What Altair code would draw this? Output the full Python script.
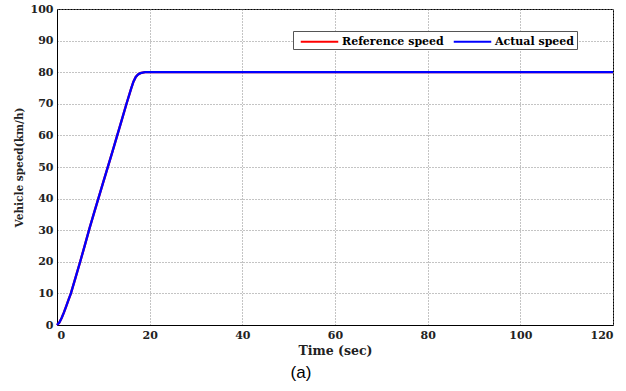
import altair as alt
import pandas as pd

t = [0, 0.5, 1, 1.5, 2, 2.5, 3, 4, 5, 6, 7, 8, 10, 12, 14, 15, 16, 16.5, 17, 17.5, 18, 18.5, 19, 20, 22, 120]
v = [0, 0.8, 2.2, 4, 6, 8, 10, 15, 20, 25.2, 30.5, 35.5, 45.3, 55, 65, 70, 74.8, 77, 78.5, 79.3, 79.7, 79.9, 80, 80, 80, 80]
series = ["Reference speed", "Actual speed"]
colors = ["#ff0000", "#0000ff"]

rows = []
for s in series:
    for ti, vi in zip(t, v):
        rows.append({"t": ti, "v": vi, "s": s})
df = pd.DataFrame(rows)

serif = "DejaVu Serif"

chart = alt.Chart(df).mark_line(strokeWidth=2.3).encode(
    x=alt.X("t:Q", scale=alt.Scale(domain=[0, 120], nice=False),
            axis=alt.Axis(values=[0, 20, 40, 60, 80, 100, 120], title="Time (sec)", format="d",
                          titleFontSize=12.5, titlePadding=4)),
    y=alt.Y("v:Q", scale=alt.Scale(domain=[0, 100], nice=False),
            axis=alt.Axis(values=list(range(0, 101, 10)), title="Vehicle speed(km/h)", format="d",
                          titleFontSize=10.5, titlePadding=6)),
    color=alt.Color("s:N", scale=alt.Scale(domain=series, range=colors),
                    legend=alt.Legend(title=None, orient="none", legendX=236, legendY=22,
                                      direction="horizontal", symbolType="M-2.5,0H2.5",
                                      symbolSize=225, symbolStrokeWidth=2, symbolOffset=16,
                                      labelFont=serif, labelFontWeight="bold", labelFontSize=11,
                                      labelColor="black", columnPadding=4, labelOffset=14,
                                      fillColor="white", strokeColor="#555", padding=2)),
    order=alt.Order("s:N", sort="descending"),
).properties(
    width=556, height=316,
    autosize=alt.AutoSizeParams(type="none"),
    padding={"left": 57, "top": 9, "right": 13, "bottom": 66},
    title=alt.TitleParams("(a)", orient="bottom", font="Liberation Sans", fontSize=17,
                          fontWeight="normal", color="black", offset=8, dx=-34),
).configure_view(stroke="black", strokeWidth=1).configure_axis(
    grid=True, gridColor="#888", gridDash=[1, 2], gridWidth=1,
    domainColor="black", ticks=False,
    labelFont=serif, labelFontWeight="bold", labelFontSize=11, labelColor="#222", labelPadding=4,
    titleFont=serif, titleFontWeight="bold", titleColor="#222",
)

chart.save("out.html", embed_options={"renderer": "svg", "actions": False})
